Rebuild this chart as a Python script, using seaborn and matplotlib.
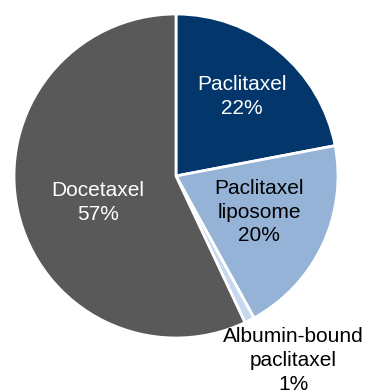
import numpy as np
import seaborn as sns
import matplotlib.pyplot as plt

drugs = ["Paclitaxel", "Paclitaxel\nliposome", "Albumin-bound\npaclitaxel", "Docetaxel"]
shares = [22, 20, 1, 57]
colors = ["#03366A", "#95B3D7", "#C6D9F1", "#595959"]
text_colors = ["white", "black", "black", "white"]
label_radius = [0.64, 0.56, 1.35, 0.51]
label_turn = [0, 1.8, 5.5, 6.4]  # degrees, nudges labels off the wedge middle

sns.set_theme(style="white")
plt.rcParams['font.family'] = ['Liberation Sans', 'DejaVu Sans']

fig = plt.figure(figsize=(3.67, 3.91), dpi=100)
ax = fig.add_axes([0, 0, 1, 1])

wedges, _ = ax.pie(shares, colors=colors, startangle=90, counterclock=False,
                   radius=1, wedgeprops=dict(edgecolor="white", linewidth=2))

for w, name, val, tc, rr, dt in zip(wedges, drugs, shares, text_colors, label_radius, label_turn):
    mid = np.deg2rad((w.theta1 + w.theta2) / 2 + dt)
    ax.text(rr * np.cos(mid), rr * np.sin(mid), f"{name}\n{val}%",
            ha="center", va="center", multialignment="center",
            color=tc, fontsize=15, linespacing=1.33)

# put the pie where the reference has it
ax.set_xlim(-176 / 162, (367 - 176) / 162)
ax.set_ylim(-215 / 162, (391 - 215) / 162)
ax.set_aspect("auto")
ax.axis("off")

fig.savefig("out.png", dpi=100)
